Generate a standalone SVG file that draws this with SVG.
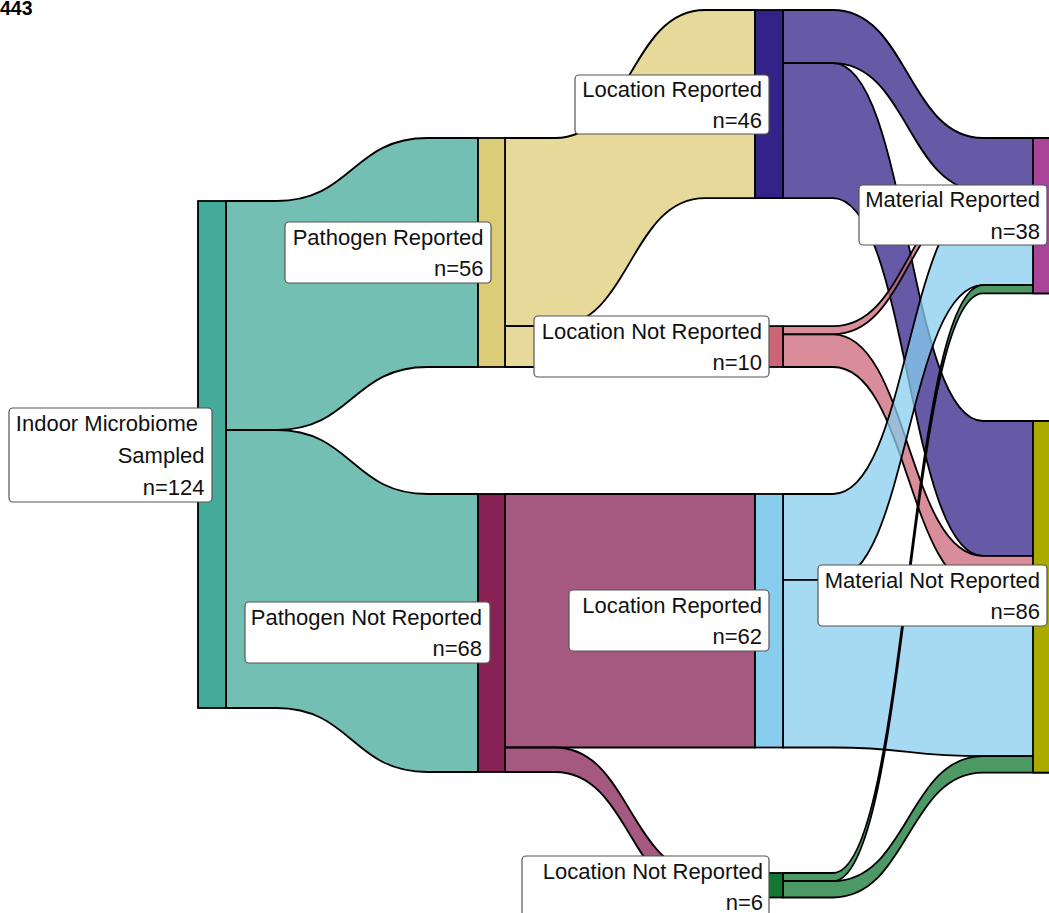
<svg xmlns="http://www.w3.org/2000/svg" width="1049" height="913" viewBox="0 0 1049 913">
<style>
.flow{stroke:#000;stroke-width:1.8;stroke-linejoin:round;fill-opacity:0.75}
.bar{stroke:#000;stroke-width:1.8}
.lb{fill:#fff;stroke:#555;stroke-width:1.2}
.t{font-family:"Liberation Sans",Arial,sans-serif;font-size:22px;fill:#111;text-anchor:end}
.teal{fill:#44AA99}.yel{fill:#DDCC77}.mag{fill:#882255}.ind{fill:#332288}.pink{fill:#CC6677}.cyan{fill:#88CCEE}.grn{fill:#117733}.pur{fill:#AA4499}.oli{fill:#AAAA00}
</style>
<rect width="1049" height="913" fill="#fff"/>
<text x="0" y="15" font-family="Liberation Sans,Arial,sans-serif" font-weight="bold" font-size="19.5" fill="#000">443</text>
<g id="connectors">
<path class="flow teal" d="M226,201 L276.4,201 C352,201 352,138 427.6,138 L478,138 L478,367 L427.6,367 C352,367 352,430 276.4,430 L226,430 Z"/>
<path class="flow teal" d="M226,430 L276.4,430 C352,430 352,494 427.6,494 L478,494 L478,772 L427.6,772 C352,772 352,708 276.4,708 L226,708 Z"/>
<path class="flow yel" d="M505,138 L555,138 C630,138 630,10 705,10 L755,10 L755,198.1 L705,198.1 C630,198.1 630,326.1 555,326.1 L505,326.1 Z"/>
<path class="flow yel" d="M505,326.1 L755,326.1 L755,367 L505,367 Z"/>
<path class="flow mag" d="M505,494 L755,494 L755,747.5 L505,747.5 Z"/>
<path class="flow mag" d="M505,747.5 L555,747.5 C630,747.5 630,873 705,873 L755,873 L755,897.5 L705,897.5 C630,897.5 630,772 555,772 L505,772 Z"/>
<path class="flow ind" d="M783,10 L833,10 C908,10 908,138 983,138 L1061,138 L1061,191.2 L983,191.2 C908,191.2 908,63.2 833,63.2 L783,63.2 Z"/>
<path class="flow ind" d="M783,63.2 L833,63.2 C908,63.2 908,421 983,421 L1061,421 L1061,555.9 L983,555.9 C908,555.9 908,198.1 833,198.1 L783,198.1 Z"/>
<path class="flow pink" d="M783,326.1 L833,326.1 C908,326.1 908,191.2 983,191.2 L1061,191.2 L1061,199.3 L983,199.3 C908,199.3 908,334.3 833,334.3 L783,334.3 Z"/>
<path class="flow pink" d="M783,334.3 L833,334.3 C908,334.3 908,555.9 983,555.9 L1061,555.9 L1061,588.6 L983,588.6 C908,588.6 908,367 833,367 L783,367 Z"/>
<path class="flow cyan" d="M783,494 L833,494 C908,494 908,199.3 983,199.3 L1061,199.3 L1061,285.2 L983,285.2 C908,285.2 908,579.9 833,579.9 L783,579.9 Z"/>
<path class="flow cyan" d="M783,579.9 L833,579.9 C908,579.9 908,588.6 983,588.6 L1061,588.6 L1061,756.2 L983,756.2 C908,756.2 908,747.5 833,747.5 L783,747.5 Z"/>
<path class="flow grn" d="M783,873 L833,873 C908,873 908,285.2 983,285.2 L1061,285.2 L1061,293.4 L983,293.4 C908,293.4 908,881.2 833,881.2 L783,881.2 Z"/>
<path class="flow grn" d="M783,881.2 L833,881.2 C908,881.2 908,756.2 983,756.2 L1061,756.2 L1061,772.6 L983,772.6 C908,772.6 908,897.5 833,897.5 L783,897.5 Z"/>
</g>
<g id="node-indoor">
<rect class="bar teal" x="198" y="201" width="28" height="507"/>
<rect class="lb" x="9" y="408" width="203" height="94" rx="4"/>
<text class="t" x="198" y="431">Indoor Microbiome</text>
<text class="t" x="204.5" y="463">Sampled</text>
<text class="t" x="204.5" y="495">n=124</text>
</g>
<g id="node-pathogen-reported">
<rect class="bar yel" x="478" y="138" width="27" height="229"/>
<rect class="lb" x="285" y="222" width="206" height="61" rx="4"/>
<text class="t" x="483.5" y="245">Pathogen Reported</text>
<text class="t" x="483.5" y="276">n=56</text>
</g>
<g id="node-pathogen-not-reported">
<rect class="bar mag" x="478" y="494" width="27" height="278"/>
<rect class="lb" x="245" y="602" width="245" height="61" rx="4"/>
<text class="t" x="482" y="625">Pathogen Not Reported</text>
<text class="t" x="482" y="656">n=68</text>
</g>
<g id="node-location-reported-46">
<rect class="bar ind" x="755" y="10" width="28" height="188.1"/>
<rect class="lb" x="575" y="75" width="194" height="59" rx="4"/>
<text class="t" x="762" y="97">Location Reported</text>
<text class="t" x="762" y="128">n=46</text>
</g>
<g id="node-location-not-reported-10">
<rect class="bar pink" x="755" y="326.1" width="28" height="40.9"/>
<rect class="lb" x="534" y="316" width="235" height="61" rx="4"/>
<text class="t" x="762" y="339">Location Not Reported</text>
<text class="t" x="762" y="370">n=10</text>
</g>
<g id="node-location-reported-62">
<rect class="bar cyan" x="755" y="494" width="28" height="253.5"/>
<rect class="lb" x="569" y="590" width="200" height="61" rx="4"/>
<text class="t" x="762" y="612.5">Location Reported</text>
<text class="t" x="762" y="644">n=62</text>
</g>
<g id="node-location-not-reported-6">
<rect class="bar grn" x="755" y="873" width="28" height="24.5"/>
<rect class="lb" x="522" y="856" width="247" height="70" rx="4"/>
<text class="t" x="763" y="878.5">Location Not Reported</text>
<text class="t" x="763" y="910">n=6</text>
</g>
<g id="node-material-reported">
<rect class="bar pur" x="1033" y="138" width="28" height="155.4"/>
<rect class="lb" x="859" y="185" width="188" height="60" rx="4"/>
<text class="t" x="1040" y="207">Material Reported</text>
<text class="t" x="1040" y="239">n=38</text>
</g>
<g id="node-material-not-reported">
<rect class="bar oli" x="1033" y="421" width="28" height="351.6"/>
<rect class="lb" x="818" y="565" width="229" height="61" rx="4"/>
<text class="t" x="1040" y="588">Material Not Reported</text>
<text class="t" x="1040" y="619">n=86</text>
</g>
</svg>
